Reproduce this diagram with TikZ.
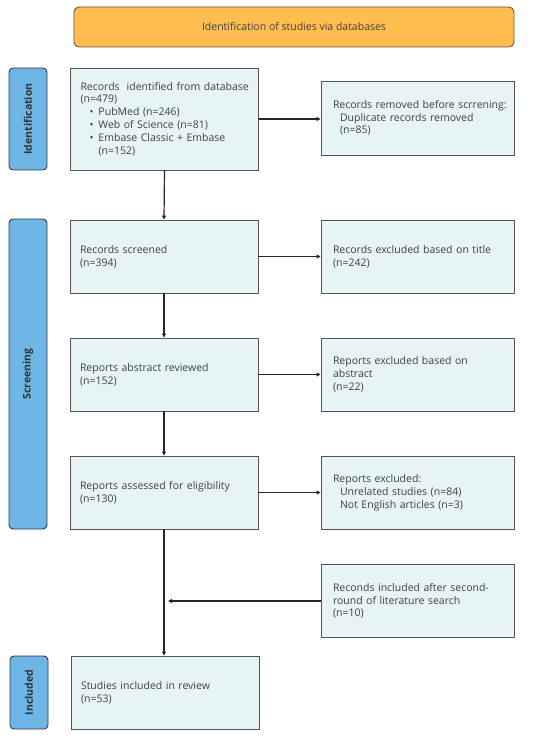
\documentclass[tikz,border=0pt]{standalone}
\usepackage{fontspec}
\setmainfont{Open Sans}
\usetikzlibrary{arrows.meta}
\definecolor{boxfill}{HTML}{E7F4F5}
\definecolor{boxdraw}{HTML}{555555}
\definecolor{orangefill}{HTML}{FFBE4F}
\definecolor{orangedraw}{HTML}{6B5530}
\definecolor{barfill}{HTML}{6DB6E6}
\definecolor{bardraw}{HTML}{2F3B48}
\definecolor{txt}{HTML}{404040}
\begin{document}
\begin{tikzpicture}[x=1pt,y=-1pt,
  every node/.style={font=\fontsize{10.5}{12.8}\selectfont, text=txt},
  lbox/.style={draw=boxdraw, fill=boxfill, line width=0.9pt, inner xsep=10pt, inner ysep=0pt,
    text width=168pt, align=left, minimum height=73pt},
  rbox/.style={draw=boxdraw, fill=boxfill, line width=0.9pt, inner xsep=12pt, inner ysep=0pt,
    text width=169pt, align=left, minimum height=73pt},
  sidebar/.style={draw=bardraw, fill=barfill, line width=0.9pt, rounded corners=4pt, rotate=90,
    minimum height=38pt, inner sep=0pt, text=black!80, font=\fontsize{10.5}{12}\selectfont\bfseries},
  arr/.style={-{Triangle[length=4pt,width=4pt]}, line width=1.2pt, black!85}]
\useasboundingbox (0,0) rectangle (550,738);

% header
\node[draw=orangedraw, fill=orangefill, line width=0.9pt, rounded corners=5pt,
  minimum width=440pt, minimum height=40pt, inner sep=0pt] (head) at (294,27)
  {Identification of studies via databases};

% side bars
\node[sidebar, minimum width=102pt] (bid) at (28,119) {Identification};
\node[sidebar, minimum width=310pt] (bscr) at (28,374) {Screening};
\node[sidebar, minimum width=73pt] (binc) at (29,692.5) {Included};

% left column
\node[lbox, minimum height=102pt] (ident) at (164.5,119) {\mbox{Records\ \ identified from database}\\(n=479)\\
\hspace*{9pt}\makebox[9pt][l]{\textbullet}PubMed (n=246)\\
\hspace*{9pt}\makebox[9pt][l]{\textbullet}Web of Science (n=81)\\
\hspace*{9pt}\makebox[9pt][l]{\textbullet}\mbox{Embase Classic + Embase}\\
\hspace*{18pt}(n=152)};
\node[lbox] (scr) at (164,256.5) {Records screened\\(n=394)};
\node[lbox] (abs) at (164,374.5) {Reports abstract reviewed\\(n=152)};
\node[lbox] (ass) at (164,492.5) {\mbox{Reports assessed for eligibility}\\(n=130)};
\node[lbox] (inc) at (165,692.5) {Studies included in review\\(n=53)};

% right column
\node[rbox, minimum height=74pt] (rem) at (417.5,118) {\mbox{Records removed before scrrening:}\\
\hspace*{7pt}\mbox{Duplicate records removed}\\\hspace*{7pt}(n=85)};
\node[rbox] (exc1) at (417.5,256.5) {\mbox{Records excluded based on title}\\(n=242)};
\node[rbox] (exc2) at (417.5,374.5) {Reports excluded based on\\abstract\\(n=22)};
\node[rbox] (exc3) at (417.5,492.5) {Reports excluded:\\
\hspace*{7pt}\mbox{Unrelated studies (n=84)}\\\hspace*{7pt}\mbox{Not English articles (n=3)}};
\node[rbox] (recs) at (417.5,601) {\mbox{Reconds included after second-}\\round of literature search\\(n=10)};

% connectors
\draw[arr] (ident.east) -- (rem.west |- ident.east);
\draw[arr] (ident.south) -- (scr.north);
\draw[arr] (scr.east) -- (exc1.west);
\draw[arr] (scr.south) -- (abs.north);
\draw[arr] (abs.east) -- (exc2.west);
\draw[arr] (abs.south) -- (ass.north);
\draw[arr] (ass.east) -- (exc3.west);
\draw[arr] (ass.south) -- (ass.south |- inc.north);
\draw[arr, shorten >=4pt] (recs.west) -- (ass.south |- recs.west);
\end{tikzpicture}
\end{document}
